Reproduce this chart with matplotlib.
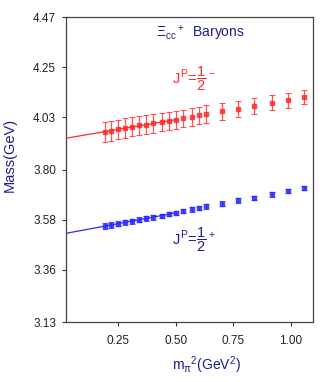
import numpy as np
import matplotlib
matplotlib.use("Agg")
import matplotlib.pyplot as plt

plt.rcParams['font.family'] = ['Liberation Sans', 'DejaVu Sans']
plt.rcParams['mathtext.fontset'] = 'custom'
plt.rcParams['mathtext.rm'] = 'Liberation Sans'
plt.rcParams['mathtext.it'] = 'Liberation Sans'
plt.rcParams['mathtext.bf'] = 'Liberation Sans:bold'

# data
mpi2 = [0.19, 0.22, 0.25, 0.28, 0.31, 0.34, 0.37, 0.40, 0.44, 0.47, 0.50,
        0.53, 0.57, 0.60, 0.63, 0.70, 0.77, 0.84, 0.92, 0.99, 1.06]
mass_neg = [3.965, 3.971, 3.977, 3.983, 3.988, 3.994, 3.998, 4.003, 4.009, 4.013, 4.019,
            4.025, 4.031, 4.038, 4.044, 4.057, 4.067, 4.080, 4.093, 4.105, 4.118]
err_neg = [0.044, 0.044, 0.043, 0.043, 0.042, 0.042, 0.041, 0.041, 0.040, 0.040, 0.040,
           0.039, 0.039, 0.038, 0.038, 0.037, 0.035, 0.034, 0.033, 0.032, 0.031]
mass_pos = [3.552, 3.557, 3.562, 3.568, 3.574, 3.579, 3.586, 3.591, 3.597, 3.604, 3.610,
            3.618, 3.625, 3.631, 3.638, 3.651, 3.665, 3.676, 3.691, 3.706, 3.719]
err_pos = [0.013, 0.012, 0.012, 0.012, 0.011, 0.011, 0.011, 0.011, 0.010, 0.010, 0.010,
           0.010, 0.010, 0.010, 0.010, 0.010, 0.010, 0.010, 0.010, 0.010, 0.010]
fit_max = 0.50
xlim = (0.021, 1.097)
ylim = (3.13, 4.47)
yticks = [3.13, 3.36, 3.58, 3.80, 4.03, 4.25, 4.47]
xticks = [0.25, 0.50, 0.75, 1.00]

red = '#ff2a2a'
blue = '#2a2aff'
navy = '#1c1c96'

fig = plt.figure(figsize=(3.27, 3.82), dpi=100)
ax = fig.add_axes([0.201, 0.157, 0.756, 0.798])

x = np.array(mpi2)
for m, e, c in [(mass_neg, err_neg, red), (mass_pos, err_pos, blue)]:
    m = np.array(m)
    sel = x <= fit_max + 1e-9
    p = np.polyfit(x[sel], m[sel], 1)
    xf = np.array([xlim[0], fit_max])
    ax.plot(xf, np.polyval(p, xf), color=c, lw=0.9)
    ax.errorbar(x, m, yerr=e, fmt='s', ms=2.2, color=c, ecolor=c, elinewidth=0.9,
                capsize=2, capthick=0.8, alpha=0.8)

ax.set_xlim(*xlim)
ax.set_ylim(*ylim)
ax.set_yticks(yticks)
ax.set_yticklabels([f'{v:.2f}' for v in yticks])
ax.set_xticks(xticks)
ax.set_xticklabels([f'{v:.2f}' for v in xticks])
ax.tick_params(labelsize=8.5, length=3, width=0.8, colors='#333333', labelcolor='#222222')
ax.tick_params(axis='x', pad=6)
ax.tick_params(axis='y', pad=4)
for s in ax.spines.values():
    s.set_color('#444444')
    s.set_linewidth(0.9)

ax.set_ylabel('Mass(GeV)', color=navy, fontsize=10.5)
ax.yaxis.set_label_coords(-0.197, 0.548)
fig.text(0.63, 0.045, r'm$_\pi$$^2$(GeV$^2$)', color=navy, fontsize=10, ha='center', va='center')

ax.text(0.543, 0.948, r'$\Xi_{cc}$$^+$  Baryons', transform=ax.transAxes, color=navy,
        fontsize=10, ha='center', va='center')
ax.text(0.519, 0.797, r'$J^P\!=\!\dfrac{1}{2}^-$', transform=ax.transAxes, color=red,
        fontsize=10.5, ha='center', va='center')
ax.text(0.519, 0.269, r'$J^P\!=\!\dfrac{1}{2}^+$', transform=ax.transAxes, color=navy,
        fontsize=10.5, ha='center', va='center')

fig.savefig('out.png', dpi=100)
